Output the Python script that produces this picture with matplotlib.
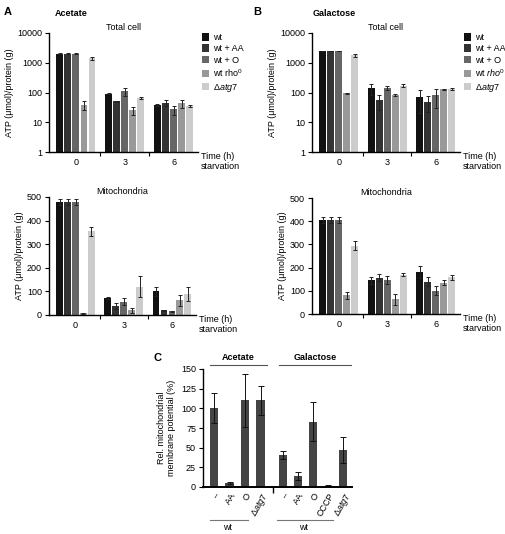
import matplotlib
matplotlib.use("Agg")
import matplotlib.pyplot as plt
import numpy as np
from matplotlib.lines import Line2D

plt.rcParams['font.family'] = ['Liberation Sans', 'DejaVu Sans']
plt.rcParams['mathtext.fontset'] = 'custom'
plt.rcParams['mathtext.rm'] = 'Liberation Sans'
plt.rcParams['mathtext.it'] = 'Liberation Sans:italic'
plt.rcParams['font.size'] = 6.5

# ---------------- data ----------------
times = ["0", "3", "6"]
strains = ["wt", "wt + AA", "wt + O", "wt rho$^{\\it{0}}$", "Δ$\\it{atg7}$"]
strains_b = ["wt", "wt + AA", "wt + O", "wt $\\it{rho}^{\\it{0}}$", "Δ$\\it{atg7}$"]
colors = ["#111111", "#333333", "#666666", "#999999", "#cccccc"]

# Acetate total cell (rows: strains, cols: time)
ac_tot = [[2000, 90, 38], [2000, 50, 45], [2000, 110, 27], [38, 25, 43], [1400, 65, 35]]
ac_tot_err = [[100, 4, 2], [100, 3, 10], [100, 35, 9], [12, 7, 12], [150, 4, 3]]
# Galactose total cell
ga_tot = [[2500, 140, 70], [2500, 55, 48], [2500, 145, 80], [95, 85, 130], [1800, 170, 130]]
ga_tot_err = [[80, 60, 50], [80, 30, 26], [80, 20, 50], [3, 6, 6], [200, 22, 10]]
# Acetate mitochondria
ac_mit = [[480, 72, 100], [480, 37, 20], [480, 57, 15], [8, 20, 62], [355, 120, 88]]
ac_mit_err = [[12, 3, 20], [12, 12, 3], [12, 15, 2], [2, 10, 24], [20, 45, 30]]
# Galactose mitochondria
ga_mit = [[405, 145, 182], [405, 157, 140], [405, 148, 100], [80, 63, 135], [295, 170, 158]]
ga_mit_err = [[12, 15, 25], [12, 15, 20], [12, 17, 20], [15, 23, 12], [20, 7, 10]]

# Panel C
c_ac_labels = ["–", "AA", "O", "Δ$\\it{atg7}$"]
c_ac_vals = [100, 5, 110, 110]
c_ac_err = [19, 1, 34, 18]
c_ga_labels = ["–", "AA", "O", "CCCP", "Δ$\\it{atg7}$"]
c_ga_vals = [41, 14, 83, 1.5, 47]
c_ga_err = [5, 5, 25, 0.6, 17]

W, H = 505, 534
fig = plt.figure(figsize=(W / 100, H / 100), dpi=100)

def rect(x0, y0, x1, y1):
    return [x0 / W, 1 - y1 / H, (x1 - x0) / W, (y1 - y0) / H]

def fx(x):
    return x / W

def fy(y):
    return 1 - y / H


def style_axes(ax):
    for s in ["top", "right"]:
        ax.spines[s].set_visible(False)
    ax.spines["left"].set_linewidth(1.0)
    ax.spines["bottom"].set_linewidth(1.0)
    ax.tick_params(axis="y", direction="out", length=3, width=0.8, pad=2, labelsize=6.5)


def group_bars(ax, vals, errs, labels, legend=False):
    n = len(vals)
    step = 0.165
    width = 0.14
    x = np.arange(len(times))
    for i in range(n):
        xi = x + (i - (n - 1) / 2) * step
        ax.bar(xi, vals[i], width=width, color=colors[i], label=labels[i],
               yerr=errs[i], error_kw=dict(elinewidth=0.7, capsize=1.5, capthick=0.7,
                                           ecolor="#222222"), zorder=2)
    ax.set_xlim(-0.55, 2.5)
    ax.set_xticks(x)
    ax.set_xticklabels(times)
    ax.tick_params(axis="x", length=0, pad=4, labelsize=6.5)
    ax.set_xticks([0.5, 1.5], minor=True)
    ax.tick_params(axis="x", which="minor", direction="out", length=3, width=0.8)
    style_axes(ax)
    ax.text(1.02, 0.0, "Time (h)\nstarvation", transform=ax.transAxes, ha="left",
            va="top", fontsize=6.5, linespacing=1.1)
    if legend:
        ax.legend(loc="upper left", bbox_to_anchor=(1.0, 1.03), frameon=False,
                  handlelength=0.8, handleheight=0.9, handletextpad=0.5,
                  labelspacing=0.25, fontsize=6.5, borderaxespad=0)


def log_axes(ax):
    ax.set_yscale("log")
    ax.set_ylim(1, 10000)
    ax.set_yticks([1, 10, 100, 1000, 10000])
    ax.set_yticklabels(["1", "10", "100", "1000", "10000"])
    ax.yaxis.set_minor_locator(matplotlib.ticker.NullLocator())


# Panel A top
axA1 = fig.add_axes(rect(49, 33, 198, 152))
group_bars(axA1, ac_tot, ac_tot_err, strains, legend=True)
log_axes(axA1)
axA1.set_title("Total cell", fontsize=6.5, pad=2)
axA1.set_ylabel("ATP (μmol)/protein (g)", fontsize=6.5, labelpad=2)

# Panel A bottom
axA2 = fig.add_axes(rect(49, 197, 196, 315))
group_bars(axA2, ac_mit, ac_mit_err, strains)
axA2.set_ylim(0, 500)
axA2.set_yticks(range(0, 501, 100))
axA2.set_title("Mitochondria", fontsize=6.5, pad=2)
axA2.set_ylabel("ATP (μmol)/protein (g)", fontsize=6.5, labelpad=2)

# Panel B top
axB1 = fig.add_axes(rect(312, 33, 460, 152))
group_bars(axB1, ga_tot, ga_tot_err, strains_b, legend=True)
log_axes(axB1)
axB1.set_title("Total cell", fontsize=6.5, pad=2)
axB1.set_ylabel("ATP (μmol)/protein (g)", fontsize=6.5, labelpad=2)

# Panel B bottom
axB2 = fig.add_axes(rect(312, 198, 460, 314))
group_bars(axB2, ga_mit, ga_mit_err, strains_b)
axB2.set_ylim(0, 500)
axB2.set_yticks(range(0, 501, 100))
axB2.set_title("Mitochondria", fontsize=6.5, pad=2)
axB2.set_ylabel("ATP (μmol)/protein (g)", fontsize=6.5, labelpad=2)

# Panel letters
fig.text(fx(4), fy(12), "A", fontsize=8, fontweight="bold", va="center")
fig.text(fx(55), fy(13), "Acetate", fontsize=6.5, fontweight="bold", va="center")
fig.text(fx(253), fy(12), "B", fontsize=8, fontweight="bold", va="center")
fig.text(fx(313), fy(13), "Galactose", fontsize=6.5, fontweight="bold", va="center")
fig.text(fx(153), fy(358), "C", fontsize=8, fontweight="bold", va="center")

# Panel C
axC = fig.add_axes(rect(203, 369, 352, 487))
xa = np.arange(len(c_ac_vals))
xg = 4.45 + np.arange(len(c_ga_vals)) * 0.97
ekw = dict(elinewidth=0.7, capsize=2, capthick=0.7, ecolor="#111111")
axC.bar(xa, c_ac_vals, width=0.52, color="#444444", yerr=c_ac_err, error_kw=ekw)
axC.bar(xg, c_ga_vals, width=0.52, color="#444444", yerr=c_ga_err, error_kw=ekw)
axC.set_xlim(-0.71, 8.9)
axC.set_ylim(0, 150)
axC.set_yticks(range(0, 151, 25))
axC.set_xticks(list(xa) + list(xg))
axC.set_xticklabels(c_ac_labels + c_ga_labels, rotation=60, ha="right",
                    rotation_mode="anchor", fontsize=6.5)
axC.tick_params(axis="x", length=0, pad=3)
axC.set_xticks([3.8], minor=True)
axC.tick_params(axis="x", which="minor", direction="out", length=4, width=1.0)
style_axes(axC)
axC.spines["bottom"].set_linewidth(1.4)
axC.set_ylabel("Rel. mitochondrial\nmembrane potential (%)", fontsize=6.5,
               labelpad=4, linespacing=1.1)

# group headers for C
fig.text(fx(238), fy(358), "Acetate", fontsize=6.5, fontweight="bold", ha="center", va="center")
fig.add_artist(Line2D([fx(210), fx(267)], [fy(365), fy(365)], color="#555555", lw=0.8))
fig.text(fx(315), fy(358), "Galactose", fontsize=6.5, fontweight="bold", ha="center", va="center")
fig.add_artist(Line2D([fx(279), fx(351)], [fy(365), fy(365)], color="#555555", lw=0.8))

fig.add_artist(Line2D([fx(210), fx(248)], [fy(520), fy(520)], color="#777777", lw=0.8))
fig.text(fx(228), fy(528), "wt", fontsize=6.5, ha="center", va="center")
fig.add_artist(Line2D([fx(277), fx(333)], [fy(520), fy(520)], color="#777777", lw=0.8))
fig.text(fx(304), fy(528), "wt", fontsize=6.5, ha="center", va="center")

fig.savefig("out.png", dpi=100)
